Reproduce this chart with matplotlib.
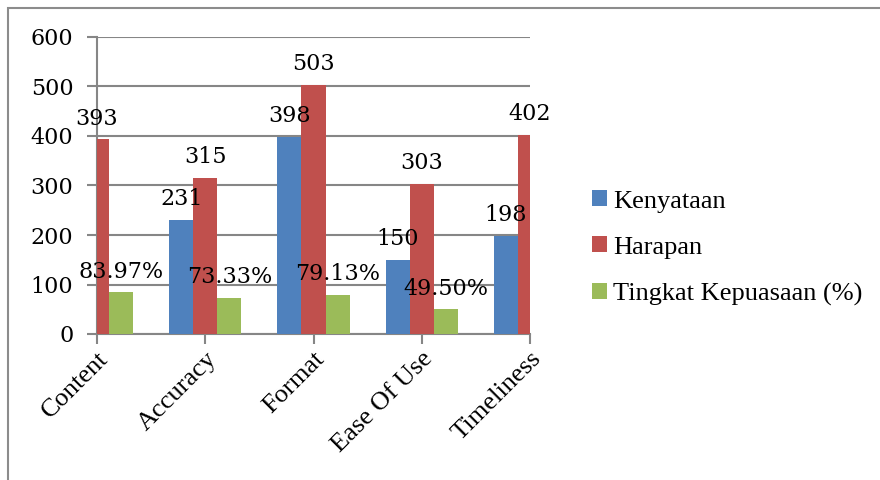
import matplotlib
matplotlib.use("Agg")
import matplotlib.pyplot as plt
from matplotlib.patches import Rectangle
import numpy as np

categories = ["Content", "Accuracy", "Format", "Ease Of Use", "Timeliness"]
kenyataan = [330, 231, 398, 150, 198]
harapan = [393, 315, 503, 303, 402]
kepuasan = [83.97, 73.33, 79.13, 49.50, 49.25]
kepuasan_labels = ["83.97%", "73.33%", "79.13%", "49.50%", "49.25%"]
series_names = ["Kenyataan", "Harapan", "Tingkat Kepuasaan (%)"]
y_ticks = [0, 100, 200, 300, 400, 500, 600]

colors = ["#4F81BD", "#C0504D", "#9BBB59"]
plt.rcParams["font.family"] = ["Liberation Serif", "DejaVu Serif"]
NUMFONT = ["DejaVu Serif"]

fig = plt.figure(figsize=(8.8, 4.8), dpi=100)
# outer chart border (document frame)
fig.patches.append(Rectangle((8 / 880, -0.1), 1.2, 1 - 8 / 480 + 0.1,
                             transform=fig.transFigure, fill=False,
                             edgecolor="#8C8C8C", linewidth=1.5))

ax = fig.add_axes([97 / 880, 1 - 334 / 480, 433 / 880, 297 / 480])
x = np.arange(len(categories))
w = 1 / 4.5
series = [kenyataan, harapan, kepuasan]
labels = [[str(v) for v in kenyataan], [str(v) for v in harapan], kepuasan_labels]
xmin, xmax = 0, len(categories) - 1
for i, (vals, lab) in enumerate(zip(series, labels)):
    pos = x + (i - 1) * w
    ax.bar(pos, vals, width=w, color=colors[i], label=series_names[i], zorder=3)
    for p, v, t in zip(pos, vals, lab):
        if xmin - 1e-9 <= p <= xmax + 1e-9:
            ax.annotate(t, (p, v), xytext=(0, 7), textcoords="offset points",
                        ha="center", va="bottom", fontsize=16, family=NUMFONT,
                        zorder=4, annotation_clip=False)

ax.set_xlim(xmin, xmax)
ax.set_ylim(0, 600)
ax.set_yticks(y_ticks)
ax.set_yticklabels([str(t) for t in y_ticks], fontsize=16, family=NUMFONT)
ax.set_xticks(x)
ax.set_xticklabels(categories, rotation=45, ha="right", va="top",
                   rotation_mode="anchor", fontsize=19)
ax.tick_params(axis="y", length=7, width=1.5, color="#868686", pad=10)
ax.tick_params(axis="x", length=7, width=1.5, color="#868686", pad=3)
ax.grid(axis="y", color="#868686", linewidth=1.5, zorder=0)
ax.set_axisbelow(True)
for s in ["top", "right"]:
    ax.spines[s].set_visible(False)
for s in ["left", "bottom"]:
    ax.spines[s].set_color("#868686")
    ax.spines[s].set_linewidth(1.5)

leg = fig.legend(loc="center left", bbox_to_anchor=(592 / 880, 1 - 248 / 480),
                 frameon=False, fontsize=19, handlelength=0.55, handleheight=0.55,
                 handletextpad=0.25, labelspacing=0.9, borderpad=0,
                 borderaxespad=0)

fig.savefig("out.png", dpi=100)
